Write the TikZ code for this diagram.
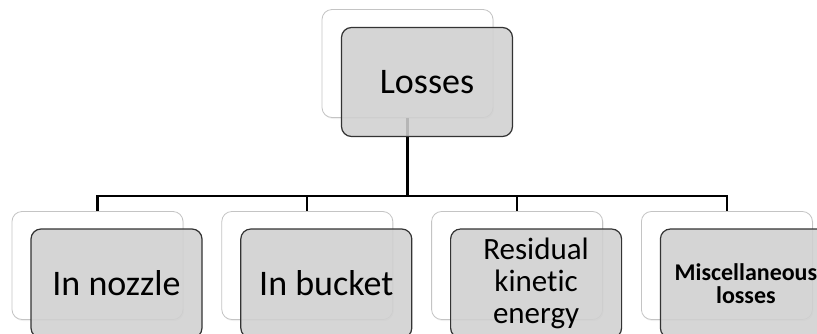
\documentclass[tikz,border=0pt]{standalone}
\usepackage{fontspec}
\setmainfont{Carlito}[Ligatures=NoCommon]
\usepackage{tikz}
\usetikzlibrary{positioning,shadows}

\definecolor{boxgray}{HTML}{D0D0D0}
\definecolor{backline}{HTML}{C4C4C4}

\begin{document}
\begin{tikzpicture}[
  x=1pt,y=-1pt,
  backbox/.style={draw=backline,line width=0.8pt,rounded corners=10pt,fill=white,
                  drop shadow={opacity=0.12,shadow xshift=1pt,shadow yshift=-1.5pt},
                  minimum width=171pt,minimum height=108pt,inner sep=0pt},
  frontbox/.style={draw=black!80,line width=1.2pt,rounded corners=10pt,fill=boxgray,
                   fill opacity=0.88,text opacity=1,minimum width=171pt,
                   minimum height=109pt,inner sep=0pt,align=center,
                   font=\fontsize{36}{36}\selectfont},
  conn/.style={line width=2.2pt}
]
\useasboundingbox (0,0) rectangle (817,333);
\clip (0,0) rectangle (817,333);
% back cards
\node[backbox] (lossB) at (407.5,63.5) {};
\node[backbox] (nozB)  at (97.5,265.5) {};
\node[backbox,right=38pt of nozB] (bucB) {};
\node[backbox,right=38pt of bucB] (resB) {};
\node[backbox,right=38pt of resB] (misB) {};
% tree lines
\coordinate[below=78pt of lossB.south] (hub);
\draw[conn] (lossB.south) -- (hub) -| (nozB.north);
\draw[conn] (hub) -| (bucB.north);
\draw[conn] (hub) -| (resB.north);
\draw[conn] (hub) -| (misB.north);
% front cards
\node[frontbox,xshift=19.5pt,yshift=-18.5pt] (lossF) at (lossB) {Losses};
\node[frontbox,xshift=19pt,yshift=-18pt] (nozF) at (nozB) {In nozzle};
\node[frontbox,xshift=19pt,yshift=-18pt] (bucF) at (bucB) {In bucket};
\node[frontbox,xshift=19pt,yshift=-18pt,font=\fontsize{31}{32}\selectfont] (resF) at (resB)
  {Residual\\kinetic\\energy};
\node[frontbox,xshift=19pt,yshift=-18pt,font=\fontsize{24}{23.5}\selectfont\bfseries] (misF) at (misB)
  {Miscellaneous\\losses};
\end{tikzpicture}
\end{document}
